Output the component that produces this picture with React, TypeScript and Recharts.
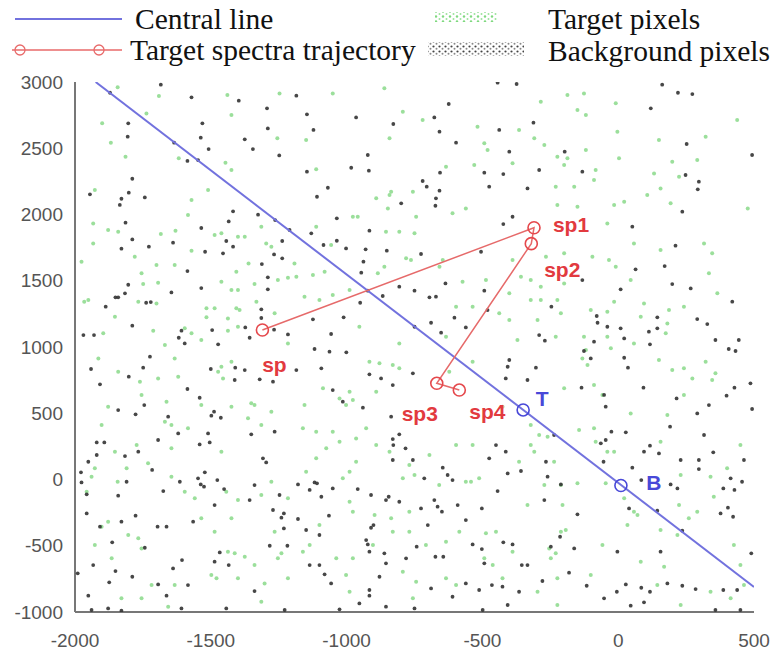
import React from "react";
import { ScatterChart, Scatter, XAxis, YAxis } from "recharts";

// pixels read as (x, y) pairs in data units
const backgroundPixels: [number, number][] = [
  [-1684, 2980], [-1571, 2884], [-1397, 2859], [-1871, 2919], [-1293, 2801], [-1185, 2897], [-1804, 2688],
  [-1531, 2688], [-1290, 2650], [-1806, 2587], [-1537, 2580], [-1375, 2567], [-1635, 2542], [-1508, 2494],
  [-1345, 2494], [-1586, 2404], [-1547, 2411], [-1248, 2446], [-1789, 2270], [-1945, 2152], [-1802, 2165],
  [-1743, 2129], [-1829, 2119], [-1835, 2072], [-1418, 2024], [-1326, 1999], [-1263, 1958], [-1814, 1938],
  [-1434, 1948], [-1535, 1898], [-1210, 1883], [-1789, 1812], [-1443, 1800], [-1829, 1742], [-1728, 1757],
  [-1639, 1787], [-1418, 1757], [-1521, 1719], [-1455, 1707], [-1237, 1800], [-1267, 1699], [-1237, 1669],
  [-1312, 1626], [-1586, 1573], [-1290, 1526], [-1535, 1445], [-1645, 1412], [-1804, 1470], [-1816, 1405],
  [-1290, 1435], [-1851, 1375], [-1841, 1375], [-1887, 1304], [-1721, 1339], [-1738, 1334], [-1314, 1284],
  [-1314, 1219], [-1789, 1161], [-1373, 1148], [-1267, 1131], [-1495, 1128], [-1608, 1123], [-1969, 1090],
  [-1930, 1090], [-1357, 1070], [-1216, 1095], [-1618, 1070], [-1596, 1027], [-1473, 1020],
  [-444, 2995], [-374, 2985], [-624, 2834], [-1146, 2756], [-965, 2733], [-677, 2733], [-828, 2683],
  [-658, 2625], [-438, 2638], [-1122, 2638], [-597, 2542], [-401, 2474], [-922, 2449], [-983, 2353],
  [-918, 2331], [-1146, 2323], [-656, 2316], [-493, 2316], [-423, 2305], [-720, 2253], [-705, 2210],
  [-1069, 2202], [-658, 2180], [-475, 2210], [-671, 2122], [-799, 2084], [-673, 2066], [-1109, 2134],
  [-1036, 1971], [-389, 1983], [-423, 1928], [-916, 1878], [-1130, 1858], [-1036, 1802], [-1002, 1744],
  [-930, 1737], [-852, 1727], [-726, 1702], [-1085, 1770], [-938, 1644], [-505, 1719], [-946, 1561],
  [-806, 1455], [-750, 1425], [-636, 1480], [-493, 1425], [-922, 1425], [-867, 1385], [-695, 1375],
  [-671, 1380], [-950, 1334], [-1124, 1209], [-1011, 1224], [-689, 1183], [-603, 1221], [-481, 1279],
  [-561, 1148], [-750, 1153], [-652, 1108], [-1057, 1098],
  [162, 2980], [220, 2919], [273, 2909], [120, 2801], [-312, 2693], [252, 2532], [-197, 2474], [-291, 2336],
  [-132, 2323], [248, 2298], [297, 2248], [293, 2190], [-334, 2197], [493, 2449], [236, 2021], [52, 1908],
  [211, 1765], [171, 1611], [64, 1586], [-132, 1505], [9, 1435], [199, 1475], [267, 1442], [420, 1342],
  [-246, 1304], [-79, 1234], [-76, 1183], [-40, 1153], [9, 1141], [144, 1224], [291, 1211], [328, 1173],
  [113, 1116], [144, 1141], [-291, 1090], [-270, 1048], [-89, 1040], [22, 1065], [117, 1020], [358, 1053],
  [444, 1053],
  [-1724, 927], [-1941, 834], [-1749, 844], [-1802, 776], [-1908, 718], [-1500, 834], [-1410, 844],
  [-1375, 826], [-1412, 751], [-1320, 756], [-1185, 826], [-1271, 738], [-1586, 683], [-1541, 617],
  [-1841, 524], [-1777, 492], [-1745, 562], [-1498, 482], [-1463, 466], [-1488, 512], [-1657, 474],
  [-1351, 341], [-1265, 361], [-1620, 348], [-1510, 348], [-1504, 280], [-1541, 265], [-1920, 280],
  [-1892, 280], [-1694, 298], [-1767, 210], [-1920, 185], [-1816, 177], [-1951, 134], [-1308, 160],
  [-1296, 129], [-1978, 54], [-1716, 72], [-1522, 54], [-1810, -17], [-1614, -17], [-1547, 9], [-1537, -37],
  [-1525, -54], [-1476, -4], [-1976, -22], [-1957, -112], [-1841, -122], [-1675, -87], [-1451, -72],
  [-1339, -42], [-1247, -117], [-1179, -37], [-1357, -155], [-1486, -193], [-1271, -230], [-1231, -256],
  [-1240, -288], [-1957, -256], [-1777, -273], [-1565, -318], [-1908, -356], [-1829, -318], [-1696, -356],
  [-1663, -356], [-1231, -369], [-1179, -298], [-1863, -474], [-1743, -515], [-1283, -500], [-1218, -500],
  [-1606, -608], [-1467, -550], [-1486, -620], [-1434, -646], [-1933, -646], [-1851, -691], [-1990, -708],
  [-1789, -734], [-1639, -671], [-1874, -776], [-1694, -792], [-1584, -797], [-1339, -842], [-1951, -877],
  [-1663, -877], [-1939, -985], [-1878, -973], [-1829, -990], [-1608, -973], [-1443, -973], [-1228, -985],
  [-1118, 985], [-1063, 965], [-1001, 960], [-1093, 839], [-916, 794], [-873, 763], [-756, 801], [-830, 713],
  [-1051, 675], [-940, 542], [-836, 474], [-1014, 587], [-401, 902], [-407, 851], [-414, 763], [-806, 341],
  [-830, 305], [-828, 260], [-783, 235], [-756, 147], [-830, 147], [-714, 9], [-646, 89], [-628, 34],
  [-610, -4], [-450, 260], [-414, 210], [-475, 160], [-358, 64], [-407, 46], [-444, -87], [-1118, -22],
  [-1109, -29], [-1136, -79], [-1093, -130], [-1051, -67], [-959, -72], [-910, -117], [-845, -130],
  [-855, -155], [-806, -168], [-677, -155], [-665, -205], [-649, -243], [-726, -218], [-591, -193],
  [-502, -218], [-1065, -273], [-1149, -381], [-701, -344], [-561, -306], [-901, -344], [-910, -364],
  [-1100, -419], [-928, -457], [-922, -490], [-916, -545], [-861, -557], [-781, -595], [-673, -583],
  [-644, -583], [-536, -490], [-502, -525], [-423, -474], [-389, -490], [-742, -507], [-493, -633],
  [-355, -646], [-1136, -646], [-1100, -646], [-1081, -716], [-855, -633], [-879, -734], [-1057, -784],
  [-916, -834], [-916, -877], [-953, -935], [-855, -960], [-689, -822], [-610, -885], [-561, -784],
  [-512, -834], [-465, -797], [-426, -809], [-407, -947], [-365, -847], [-750, -973], [-1026, -980],
  [-499, -985],
  [-126, 970], [-101, 914], [22, 919], [36, 844], [407, 985], [432, 970], [-303, 844], [-334, 751],
  [-135, 693], [-52, 638], [93, 693], [215, 612], [334, 562], [399, 633], [428, 693], [487, 726], [291, 499],
  [493, 532], [-46, 550], [191, 399], [316, 336], [-25, 361], [28, 356], [-64, 273], [-46, 298], [-236, 336],
  [117, 255], [95, 210], [150, 197], [350, 205], [230, 147], [297, 147], [297, 79], [463, 147], [-266, 134],
  [-54, 134], [52, 89], [-260, 21], [-211, -37], [85, -4], [193, -37], [218, -67], [387, -67], [414, 9],
  [428, -79], [456, -17], [-272, -155], [40, -218], [144, -235], [-150, -263], [236, -386], [377, -256],
  [404, -213], [423, -281], [-248, -507], [-214, -432], [-162, -520], [-3, -545], [156, -545], [490, -557],
  [-181, -703], [-116, -802], [-52, -897], [-5, -847], [28, -792], [46, -952], [85, -817], [117, -847],
  [181, -784], [236, -802], [285, -827], [387, -834], [438, -834], [-279, -766], [-334, -646], [95, -927],
  [358, -985], [450, -985],
];

const targetPixels: [number, number][] = [
  [-1843, 2960], [-1691, 2894], [-1900, 2688], [-1868, 2542], [-1814, 2436], [-1737, 2763], [-1618, 2424],
  [-1439, 2902], [-1424, 2751], [-1247, 2914], [-1255, 2575], [-1424, 2336], [-1446, 2391], [-1510, 2185],
  [-1927, 2185], [-1933, 1933], [-1878, 1883], [-1841, 1870], [-1933, 1782], [-1684, 1853], [-1630, 1878],
  [-1571, 2109], [-1584, 1996], [-1486, 1845], [-1461, 1858], [-1400, 1832], [-1375, 1832], [-1571, 1727],
  [-1314, 1908], [-1296, 1782], [-1277, 1757], [-1192, 1631], [-1780, 1682], [-1700, 1619], [-1633, 1619],
  [-1755, 1556], [-1749, 1475], [-1694, 1485], [-1461, 1493], [-1424, 1430], [-1400, 1430], [-1339, 1475],
  [-1253, 1505], [-1216, 1523], [-1185, 1531], [-1406, 1568], [-1361, 1631], [-1951, 1354], [-1966, 1342],
  [-1767, 1342], [-1700, 1329], [-1516, 1292], [-1486, 1292], [-1406, 1292], [-1394, 1279], [-1437, 1216],
  [-1332, 1342], [-1516, 1224], [-1712, 1123], [-1571, 1103], [-1437, 1123], [-1400, 1153], [-1596, 1141],
  [-1853, 1229], [-1976, 1644], [-1896, 1103], [-1265, 1254], [-1216, 1027], [-1669, 1015], [-1535, 1053],
  [-481, 2487], [-493, 2537], [-842, 2147], [-836, 2172], [-756, 2172], [-750, 1858], [-806, 1870],
  [-763, 1656], [-781, 1669], [-842, 2575], [-793, 2776], [-720, 2713], [-518, 2663], [-1112, 2341],
  [-891, 2122], [-848, 2046], [-959, 1983], [-977, 1983], [-1112, 1908], [-1081, 1568], [-1124, 1543],
  [-1155, 1380], [-1100, 1354], [-1051, 1392], [-989, 1430], [-885, 1556], [-861, 1606], [-658, 1606],
  [-646, 1656], [-573, 1493], [-597, 1304], [-536, 1304], [-389, 1656], [-358, 1531], [-401, 1405],
  [-438, 1254], [-487, 1505], [-610, 2009], [-561, 2046], [-744, 1983], [-634, 2361], [-530, 2373],
  [-389, 2386], [-1149, 2562], [-1057, 1770], [-855, 1870], [-806, 1027], [-634, 1078], [-953, 1153],
  [-401, 1204], [-371, 1053], [-1051, 2914], [-861, 2952], [-365, 2638],
  [-187, 2902], [-126, 2914], [-285, 2851], [-150, 2789], [-119, 2751], [-9, 2839], [-309, 2575],
  [-272, 2524], [-224, 2436], [-187, 2424], [-199, 2373], [-119, 2487], [-83, 2336], [-89, 2260], [-3, 2625],
  [3, 2424], [150, 2562], [199, 2399], [291, 2411], [322, 2587], [224, 2285], [156, 2197], [132, 2310],
  [107, 2147], [193, 2084], [22, 2097], [-15, 2072], [-162, 2210], [-230, 2210], [-224, 2072], [-150, 2059],
  [-40, 1933], [58, 1782], [156, 1732], [316, 1782], [346, 1707], [334, 1556], [438, 2713], [477, 2046],
  [-199, 1707], [-266, 1682], [-95, 1682], [-34, 1656], [-9, 1606], [-322, 1505], [-285, 1455], [-199, 1480],
  [-224, 1354], [-322, 1354], [-285, 1354], [-211, 1254], [-297, 1204], [-101, 1279], [-40, 1266],
  [-15, 1342], [83, 1229], [95, 1329], [187, 1279], [181, 1178], [242, 1304], [-126, 1078], [-40, 1078],
  [58, 1027], [-230, 1078], [175, 1103], [46, 1505], [365, 1405],
  [-1914, 914], [-1841, 814], [-1761, 738], [-1755, 638], [-1694, 763], [-1633, 914], [-1620, 776],
  [-1461, 851], [-1473, 814], [-1424, 889], [-1455, 763], [-1339, 562], [-1351, 575], [-1277, 512],
  [-1878, 550], [-1902, 411], [-1669, 436], [-1663, 587], [-1645, 411], [-1584, 386], [-1535, 562],
  [-1424, 550], [-1314, 411], [-1363, 462], [-1461, 210], [-1645, 235], [-1773, 260], [-1853, 210],
  [-1927, 84], [-1810, 84], [-1731, 122], [-1939, 21], [-1843, -17], [-1957, -92], [-1645, 21], [-1596, -92],
  [-1559, -142], [-1443, -92], [-1400, -155], [-1314, -117], [-1277, -17], [-1216, -142], [-1902, -356],
  [-1878, -318], [-1804, -419], [-1927, -495], [-1767, -444], [-1755, -520], [-1865, -595], [-1535, -293],
  [-1486, -394], [-1437, -545], [-1412, -557], [-1375, -583], [-1339, -646], [-1253, -595], [-1240, -557],
  [-1498, -721], [-1479, -746], [-1633, -797], [-1718, -797], [-1400, -746], [-1302, -784], [-1657, -960],
  [-1755, -897], [-1829, -897], [-1216, -746], [-1314, -922], [-1265, -394], [-1424, -293],
  [-1155, 562], [-1161, 386], [-1087, 688], [-1026, 612], [-977, 600], [-1002, 562], [-989, 663],
  [-891, 663], [-916, 889], [-879, 877], [-830, 864], [-806, 839], [-1112, 361], [-1051, 361], [-1075, 235],
  [-1026, 285], [-965, 310], [-965, 134], [-989, 59], [-1014, 9], [-1149, 59], [-1112, 160], [-842, 210],
  [-769, 109], [-750, 34], [-695, 185], [-597, 260], [-561, -17], [-542, -17], [-512, 9], [-365, 134],
  [-989, -168], [-977, -243], [-897, -268], [-836, -293], [-769, -243], [-1100, -344], [-1136, -495],
  [-1161, -545], [-977, -595], [-903, -495], [-830, -394], [-769, -394], [-708, -495], [-634, -469],
  [-585, -394], [-487, -406], [-450, -394], [-493, -595], [-462, -646], [-1038, -595], [-1002, -721],
  [-793, -696], [-744, -771], [-989, -847], [-756, -897], [-634, -746], [-597, -797], [-426, -746],
  [-389, -545], [-622, 814], [-536, 889], [-426, 550], [-536, 260], [-928, 386], [-891, 260], [-659, -42],
  [-793, 9],
  [-119, 977], [-132, 914], [-113, 864], [-27, 990], [150, 902], [199, 826], [242, 839], [322, 889],
  [358, 801], [346, 751], [273, 763], [242, 638], [-199, 688], [-89, 713], [-58, 638], [46, 499], [-322, 411],
  [-291, 336], [-260, 323], [-322, 260], [-309, 210], [-236, 134], [-211, -42], [-144, 373], [-83, 285],
  [-89, 386], [156, 285], [450, 260], [-40, 210], [-15, 210], [181, 487], [230, 34], [340, 21], [401, 84],
  [-334, -193], [-272, -42], [-205, -193], [-46, -29], [58, -243], [71, -268], [224, -193], [260, -293],
  [291, -243], [352, -130], [-211, -394], [-254, -520], [-248, -595], [-230, -557], [-193, -381],
  [-58, -495], [156, -381], [426, -495], [450, -646], [83, -620], [218, -419], [-101, -721], [169, -658],
  [-224, -746], [-297, -847], [34, -344], [144, -797], [340, -847], [414, -897], [463, -797], [-224, -947],
  [230, -947], [22, -142], [-150, -29],
];

const centralLine: [number, number][] = [
  [-1924, 3000],
  [500, -811],
];

const trajectoryNames = ["sp", "sp1", "sp2", "sp3", "sp4"];
const trajectoryPoints: [number, number][] = [
  [-1310, 1128],
  [-310, 1900],
  [-320, 1780],
  [-668, 726],
  [-585, 675],
];

const lineMarkNames = ["T", "B"];
const lineMarkPoints: [number, number][] = [
  [-350, 525],
  [10, -45],
];

const xTicks = [-2000, -1500, -1000, -500, 0, 500];
const yTicks = [-1000, -500, 0, 500, 1000, 1500, 2000, 2500, 3000];

const toXY = (pts: [number, number][]) => pts.map(([x, y]) => ({ x, y }));
const named = (names: string[], pts: [number, number][]) =>
  pts.map(([x, y], i) => ({ x, y, name: names[i] }));

const RED = "#e23a3f";
const BLUE = "#4848d8";
const LINE_BLUE = "#7272de";

// label offsets (px) relative to each marker
const labelOffset: Record<string, [number, number]> = {
  sp: [12, 34],
  sp1: [37, -3],
  sp2: [31, 26],
  sp3: [-17, 30],
  sp4: [28, 21],
  T: [19, -11],
  B: [33, -3],
};

const labelFont = "'Liberation Sans', Arial, sans-serif";
const serif = "'Liberation Serif', 'Times New Roman', serif";

const GreenDot = (p: any) => <circle cx={p.cx} cy={p.cy} r={2} fill="#8ad98a" fillOpacity={0.85} />;
const BlackDot = (p: any) => <circle cx={p.cx} cy={p.cy} r={1.9} fill="#333" fillOpacity={0.9} />;
const NoDot = () => <g />;

const makeMarker = (color: string, labelColor: string) => (p: any) => {
  const name = p.payload?.name ?? "";
  const [dx, dy] = labelOffset[name] ?? [0, 0];
  return (
    <g>
      <circle cx={p.cx} cy={p.cy} r={6} fill="none" stroke={color} strokeWidth={1.6} />
      <text
        x={p.cx + dx}
        y={p.cy + dy}
        textAnchor="middle"
        dominantBaseline="central"
        fontFamily={labelFont}
        fontWeight="bold"
        fontSize={21}
        fill={labelColor}
      >
        {name}
      </text>
    </g>
  );
};

const TrajectoryMarker = makeMarker("#e5484c", RED);
const LineMarker = makeMarker(BLUE, BLUE);

const LegendBox = () => (
  <svg width={774} height={75} style={{ position: "absolute", left: 0, top: 0 }}>
    <defs>
      <pattern id="greenSwatch" width="7" height="5" patternUnits="userSpaceOnUse">
        <circle cx="2" cy="1.5" r="1.2" fill="#7ed87e" />
        <circle cx="5.5" cy="4" r="1" fill="#9be39b" />
      </pattern>
      <pattern id="blackSwatch" width="6" height="5" patternUnits="userSpaceOnUse">
        <circle cx="1.5" cy="1.5" r="1.1" fill="#444" />
        <circle cx="4.5" cy="3.8" r="1" fill="#888" />
      </pattern>
    </defs>
    <line x1={15} x2={122} y1={19} y2={19} stroke={LINE_BLUE} strokeWidth={2} />
    <text x={135} y={29} fontFamily={serif} fontSize={29.5} fill="#111">
      Central line
    </text>
    <line x1={12} x2={122} y1={50} y2={50} stroke="#e86a6a" strokeWidth={1.5} />
    <circle cx={20} cy={50} r={5} fill="none" stroke="#e86a6a" strokeWidth={1.3} />
    <circle cx={99} cy={50} r={5} fill="none" stroke="#e86a6a" strokeWidth={1.3} />
    <text x={130} y={60} fontFamily={serif} fontSize={29.5} fill="#111">
      Target spectra trajectory
    </text>
    <rect x={435} y={12} width={62} height={10} fill="url(#greenSwatch)" />
    <rect x={428} y={42} width={96} height={14} fill="url(#blackSwatch)" />
    <text x={548} y={29} fontFamily={serif} fontSize={29.5} fill="#111">
      Target pixels
    </text>
    <text x={548} y={61} fontFamily={serif} fontSize={29.5} fill="#111">
      Background pixels
    </text>
  </svg>
);

const tickStyle = { fontFamily: labelFont, fontSize: 19, fill: "#555" };

export default function App() {
  return (
    <div style={{ position: "absolute", left: 0, top: 0, width: 774, height: 653, background: "#fff" }}>
      <ScatterChart width={774} height={653} margin={{ top: 82, right: 20, bottom: 11, left: 15 }}>
        <XAxis
          type="number"
          dataKey="x"
          domain={[-2000, 500]}
          ticks={xTicks}
          allowDataOverflow
          tickLine={false}
          tickMargin={16}
          tick={tickStyle}
          axisLine={{ stroke: "#777", strokeWidth: 2 }}
          height={30}
        />
        <YAxis
          type="number"
          dataKey="y"
          domain={[-1000, 3000]}
          ticks={yTicks}
          allowDataOverflow
          tickLine={false}
          tickMargin={6}
          tick={tickStyle}
          axisLine={{ stroke: "#777", strokeWidth: 2 }}
          width={60}
        />
        <Scatter data={toXY(targetPixels)} shape={GreenDot} isAnimationActive={false} />
        <Scatter data={toXY(backgroundPixels)} shape={BlackDot} isAnimationActive={false} />
        <Scatter
          data={toXY(centralLine)}
          line={{ stroke: LINE_BLUE, strokeWidth: 2 }}
          lineType="joint"
          shape={NoDot}
          isAnimationActive={false}
        />
        <Scatter
          data={named(trajectoryNames, trajectoryPoints)}
          line={{ stroke: "#e66a6a", strokeWidth: 1.5 }}
          lineType="joint"
          shape={TrajectoryMarker}
          isAnimationActive={false}
        />
        <Scatter data={named(lineMarkNames, lineMarkPoints)} shape={LineMarker} isAnimationActive={false} />
      </ScatterChart>
      <LegendBox />
    </div>
  );
}
